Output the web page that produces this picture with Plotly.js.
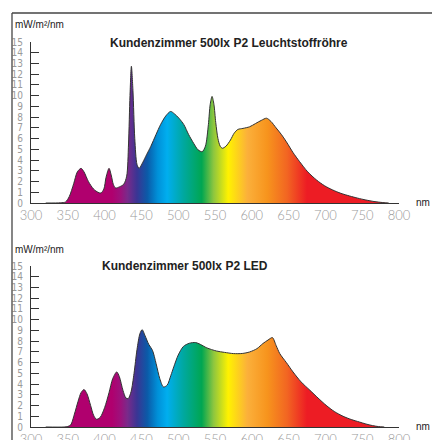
<!DOCTYPE html>
<html>
<head>
<meta charset="utf-8">
<script src="https://cdn.plot.ly/plotly-3.0.1.min.js"></script>
<style>html,body{margin:0;padding:0;background:#fff}#chart{width:432px;height:440px}</style>
</head>
<body>
<div id="chart"></div>
<script>
// Wavelengths (nm) and spectral irradiance (mW/m²/nm)
const fluoNm = [320,340,347,352,358,363,368,372,378,385,391,395,399,402,406,409,412,415,420,426,430,432.5,434.5,436.4,438.5,441,444,446.8,452,457,462.6,470,476,483,489.7,495,501,507.7,514,521,527,532.6,537,541,543.5,546,548.5,551,554,557,560,565,571,576,581,588,597,605,613,620,626,633,640,647,656,665,676,688,699,710,721,733,744,755,766,778,786];
const fluoVal = [0,0.02,0.1,0.6,1.8,2.9,3.23,2.9,2.0,1.3,1.0,0.93,1.3,2.4,3.23,2.6,1.7,1.4,1.5,1.75,2.5,5.5,10,12.74,10.5,6,3.6,3.23,3.8,4.5,5.25,6.4,7.3,8.1,8.53,8.3,7.9,7.3,6.4,5.56,4.95,4.78,5.3,7.3,9.2,9.93,9.2,7.5,6.0,5.3,5.1,5.3,5.87,6.5,6.85,6.95,7.1,7.4,7.7,7.9,7.6,7.0,6.4,5.7,4.7,3.85,2.9,2.14,1.6,1.21,0.9,0.65,0.45,0.28,0.14,0.04,0];

const ledNm = [320,345,350,354,359,364,368,372,376,381,385,389,394,400,406,411,416.5,420,425,429,432,436,440,444,448,451,455,460,465,470,475,480,485,490,494,500,507,515,523.6,530,539,552,563,575,587,597,607,615,622,628,633,638,647,656,667,679,690,701,712,724,735,746,755,764,772,780];
const ledVal = [0,0,0.05,0.2,1.2,2.4,3.2,3.49,3.1,2.0,1.1,0.72,0.9,1.8,3.2,4.5,5.13,4.7,3.4,2.7,2.64,3.3,5,7.2,8.7,9.07,8.5,7.7,7.15,5.9,4.5,3.73,3.9,4.8,5.6,6.7,7.5,7.8,7.87,7.7,7.37,7.08,6.95,6.84,6.85,6.99,7.3,7.77,8.1,8.33,7.6,6.84,6.0,5.13,4.2,3.42,2.7,2.02,1.45,1.0,0.7,0.47,0.28,0.13,0.04,0];

const titles = ["Kundenzimmer 500lx P2 Leuchtstoffröhre", "Kundenzimmer 500lx P2 LED"];
const unitLabel = "mW/m²/nm";
const xUnit = "nm";
const xTicks = [300,350,400,450,500,550,600,650,700,750,800];
const yTicks = [0,1,2,3,4,5,6,7,8,9,10,11,12,13,14,15];

// spectral colour stops (nm, colour)
const specNm  = [300,410,422,431,444,458,472,485,507,532,548,568,594,621,648,675,800];
const specCol = ["#b0006e","#b0006e","#9c127c","#7a2a8a","#3a3594","#0b5aa8","#0090d8","#00aeef","#00a8a0","#00a651","#8dc63f","#fff200","#fbb03b","#f7941d","#f26522","#ed1c24","#ed1c24"];
const colorscale = specNm.map((n,i)=>[(n-300)/500, specCol[i]]);

function trace(x,y,xa,ya){
  return {x:x,y:y,xaxis:xa,yaxis:ya,type:'scatter',mode:'lines',
    line:{color:'#333',width:1,shape:'spline',smoothing:0.8},
    fill:'tozeroy',
    fillgradient:{type:'horizontal',start:300,stop:800,colorscale:colorscale},
    hoverinfo:'skip',showlegend:false};
}

const W=432,H=440;
const px = v=>v/W, py = v=>(H-v)/H;

const xTickFont = {family:'"DejaVu Sans ExtraLight", Lato, "DejaVu Sans", sans-serif', size:13, color:'#9a9a9a', weight:300};
const yTickFont = {family:'"DejaVu Sans Condensed", "Liberation Sans Narrow", "DejaVu Sans", sans-serif', size:10, color:'#9a9a9a', weight:300};
function xax(anchor){
  return {domain:[px(31),px(399)],range:[300,800],anchor:anchor,
    tickvals:xTicks,ticks:'',showgrid:false,zeroline:false,
    showline:true,linecolor:'#333',linewidth:1,
    tickfont:xTickFont,fixedrange:true};
}
function yax(anchor,top,bottom){
  return {domain:[py(bottom),py(top)],range:[0,15],anchor:anchor,
    tickvals:yTicks,ticks:'inside',ticklen:8,tickcolor:'#333',tickwidth:1,
    showgrid:false,zeroline:false,showline:true,linecolor:'#333',linewidth:1,
    tickfont:yTickFont,ticklabelstandoff:5,fixedrange:true};
}

const annFont = {family:'"Liberation Sans", Arial, sans-serif', size:10, color:'#222'};
const titleFont = {family:'"Liberation Sans", Arial, sans-serif', size:12, color:'#222', weight:'bold'};

const layout = {
  width:W,height:H,margin:{l:0,r:0,t:0,b:0},
  paper_bgcolor:'#fff',plot_bgcolor:'rgba(0,0,0,0)',
  xaxis:xax('y'), yaxis:yax('x',42,203),
  xaxis2:xax('y2'), yaxis2:yax('x2',266,427),
  annotations:[
    {text:unitLabel,xref:'paper',yref:'paper',x:px(13),y:py(25),xanchor:'left',yanchor:'middle',showarrow:false,font:annFont},
    {text:unitLabel,xref:'paper',yref:'paper',x:px(13),y:py(249),xanchor:'left',yanchor:'middle',showarrow:false,font:annFont},
    {text:'<b>'+titles[0]+'</b>',xref:'paper',yref:'paper',x:px(229),y:py(43),xanchor:'center',yanchor:'middle',showarrow:false,font:titleFont},
    {text:'<b>'+titles[1]+'</b>',xref:'paper',yref:'paper',x:px(184.5),y:py(266),xanchor:'center',yanchor:'middle',showarrow:false,font:titleFont},
    {text:xUnit,xref:'paper',yref:'paper',x:px(422.5),y:py(202),xanchor:'center',yanchor:'middle',showarrow:false,font:annFont},
    {text:xUnit,xref:'paper',yref:'paper',x:px(422.5),y:py(426.5),xanchor:'center',yanchor:'middle',showarrow:false,font:annFont}
  ],
  shapes:[
    {type:'line',xref:'paper',yref:'paper',x0:px(12),x1:1,y0:py(13),y1:py(13),line:{color:'#444',width:1.3}},
    {type:'line',xref:'paper',yref:'paper',x0:px(12),x1:px(12),y0:py(13),y1:0,line:{color:'#444',width:1.3}}
  ]
};

Plotly.newPlot('chart',[trace(fluoNm,fluoVal,'x','y'),trace(ledNm,ledVal,'x2','y2')],layout,{displayModeBar:false,staticPlot:true});
</script>
</body>
</html>
